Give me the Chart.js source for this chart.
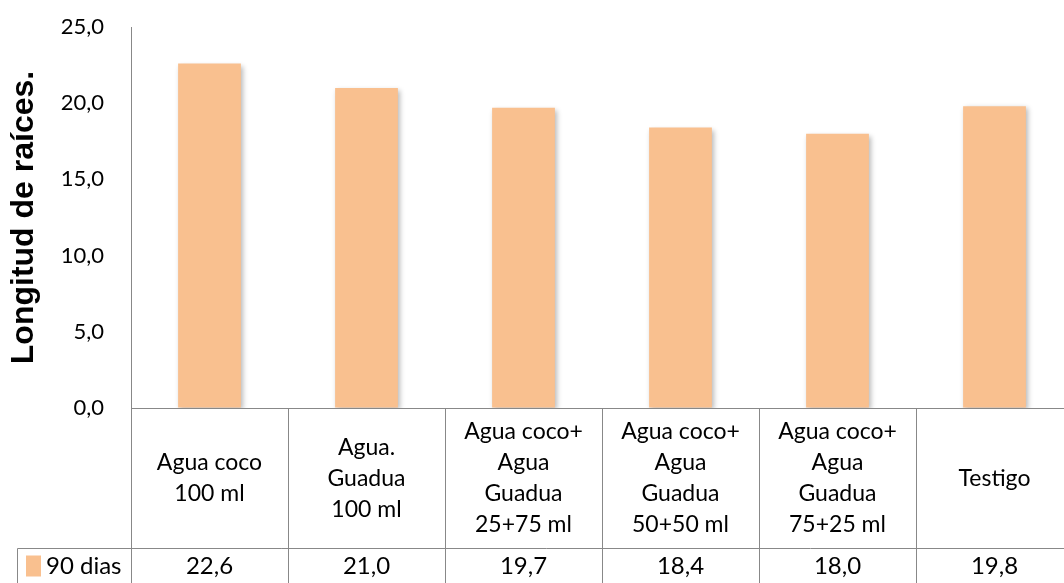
<!DOCTYPE html>
<html>
<head>
<meta charset="utf-8">
<script src="https://cdn.jsdelivr.net/npm/chart.js@4.4.1/dist/chart.umd.min.js"></script>
<style>
  html, body { margin: 0; padding: 0; background: #fff; overflow: hidden; }
  #wrap { width: 1074px; height: 583px; }
</style>
</head>
<body>
<div id="wrap"><canvas id="c" width="1074" height="583"></canvas></div>
<script>
const categories = [
  ["Agua coco", "100 ml"],
  ["Agua.", "Guadua", "100 ml"],
  ["Agua coco+", "Agua", "Guadua", "25+75 ml"],
  ["Agua coco+", "Agua", "Guadua", "50+50 ml"],
  ["Agua coco+", "Agua", "Guadua", "75+25 ml"],
  ["Testigo"]
];
const seriesName = "90 dias";
const values = [22.6, 21.0, 19.7, 18.4, 18.0, 19.8];
const yTitle = "Longitud de raíces.";

const FONT = "Lato, 'Liberation Sans', sans-serif";
const BAR = "#F9C08F";
const LINE = "#888888";
const fmt = v => v.toFixed(1).replace('.', ',');

const shadowPlugin = {
  id: 'shadow',
  beforeDatasetsDraw(chart) {
    const ctx = chart.ctx;
    ctx.save();
    ctx.shadowColor = 'rgba(0,0,0,0.28)';
    ctx.shadowBlur = 5;
    ctx.shadowOffsetX = 2;
    ctx.shadowOffsetY = 2;
  },
  afterDatasetsDraw(chart) { chart.ctx.restore(); }
};

const tablePlugin = {
  id: 'table',
  afterDraw(chart) {
    const ctx = chart.ctx;
    const area = chart.chartArea;
    const xs = chart.scales.x;
    const n = categories.length;
    const w = (area.right - area.left) / n;
    const top = Math.round(area.bottom) + 0.5;
    const mid = top + 140;
    const bottom = chart.height + 20;
    const legendLeft = 17.5;
    ctx.save();
    ctx.strokeStyle = LINE;
    ctx.lineWidth = 1;
    ctx.beginPath();
    ctx.moveTo(area.left, top); ctx.lineTo(area.right + 5, top);
    ctx.moveTo(legendLeft, mid); ctx.lineTo(area.right + 5, mid);
    for (let i = 0; i <= n; i++) {
      const x = Math.round(area.left + i * w) + 0.5;
      ctx.moveTo(x, top); ctx.lineTo(x, bottom);
    }
    ctx.moveTo(legendLeft, mid); ctx.lineTo(legendLeft, bottom);
    ctx.stroke();

    ctx.fillStyle = '#000';
    ctx.font = "23px " + FONT;
    ctx.textAlign = 'center';
    ctx.textBaseline = 'middle';
    const lh = 31;
    const rowCenter = (top + mid) / 2;
    categories.forEach((lines, i) => {
      const cx = xs.getPixelForValue(i);
      const y0 = rowCenter - (lines.length - 1) * lh / 2;
      lines.forEach((t, k) => ctx.fillText(t, cx, y0 + k * lh));
    });
    const valY = mid + 18;
    ctx.font = "24px " + FONT;
    values.forEach((v, i) => {
      ctx.fillText(fmt(v), xs.getPixelForValue(i), valY);
    });
    // legend key
    ctx.fillStyle = BAR;
    ctx.fillRect(26, valY - 11, 15, 21);
    ctx.fillStyle = '#000';
    ctx.textAlign = 'left';
    ctx.fillText(seriesName, 46, valY);
    ctx.restore();
  }
};

new Chart(document.getElementById('c'), {
  type: 'bar',
  data: {
    labels: categories,
    datasets: [{
      label: seriesName,
      data: values,
      backgroundColor: BAR,
      borderWidth: 0,
      barPercentage: 1,
      categoryPercentage: 0.4
    }]
  },
  options: {
    responsive: false,
    animation: false,
    layout: { autoPadding: false, padding: { top: 27, bottom: 175, left: 0, right: 1 } },
    plugins: { legend: { display: false }, tooltip: { enabled: false } },
    scales: {
      x: { display: false },
      y: {
        min: 0, max: 25,
        afterFit(scale) { scale.width = 131; scale.paddingTop = 0; scale.paddingBottom = 0; },
        ticks: {
          stepSize: 5,
          padding: 27,
          color: '#000',
          font: { family: FONT, size: 22 },
          callback: v => fmt(v)
        },
        grid: { display: true, drawOnChartArea: false, drawTicks: false },
        border: { display: true, color: LINE, width: 1 },
        title: {
          display: true,
          text: yTitle,
          color: '#000',
          font: { family: "'Liberation Sans', Arial, sans-serif", size: 32, weight: 'bold' },
          padding: { top: 5, bottom: 0 }
        }
      }
    }
  },
  plugins: [shadowPlugin, tablePlugin]
});
</script>
</body>
</html>
